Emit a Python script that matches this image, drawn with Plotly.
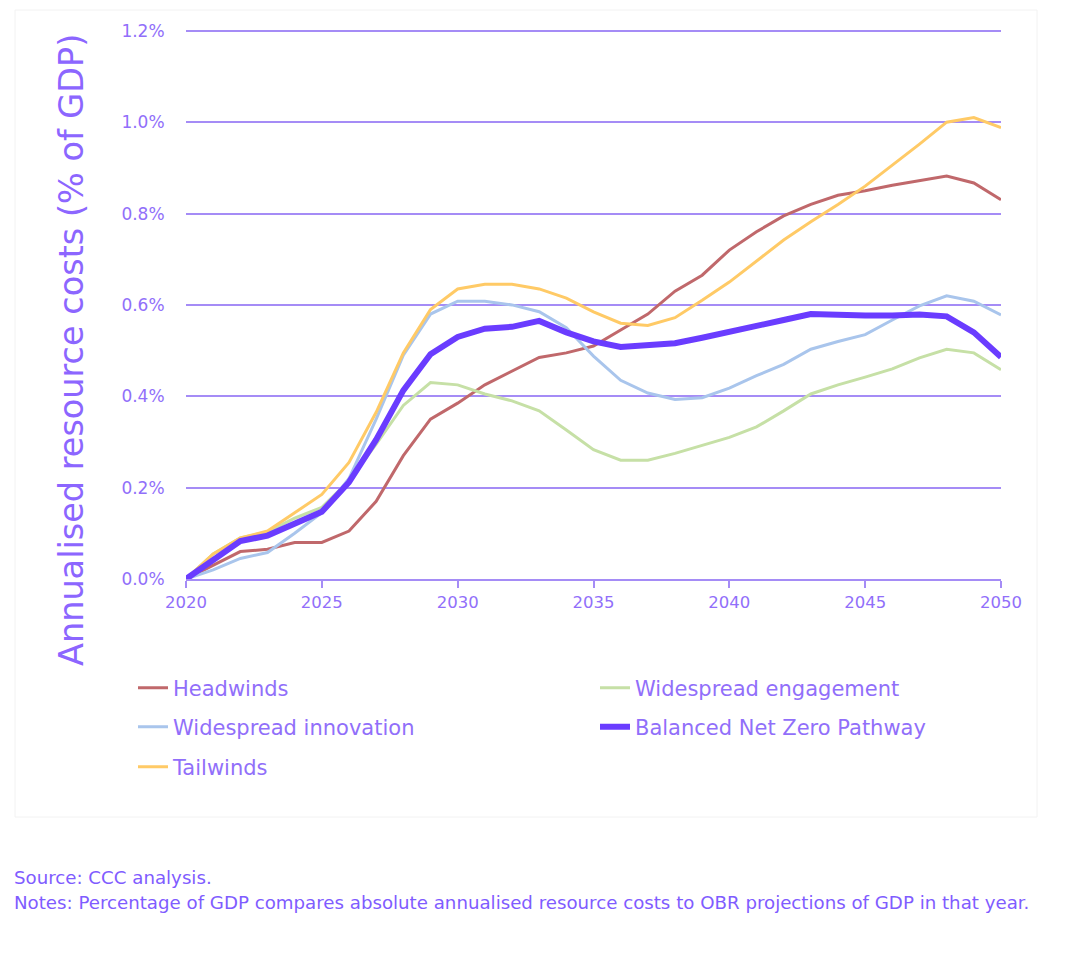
import plotly.graph_objects as go

years = list(range(2020, 2051))

headwinds = [0.0, 0.03, 0.06, 0.065, 0.08, 0.08, 0.105, 0.17, 0.27, 0.35, 0.385,
             0.425, 0.455, 0.485, 0.495, 0.51, 0.545, 0.58, 0.63, 0.665, 0.72,
             0.76, 0.795, 0.82, 0.84, 0.85, 0.862, 0.872, 0.882, 0.867, 0.83]
tailwinds = [0.0, 0.055, 0.09, 0.105, 0.145, 0.185, 0.255, 0.365, 0.495, 0.59, 0.635,
             0.645, 0.645, 0.635, 0.615, 0.585, 0.56, 0.555, 0.572, 0.61, 0.65,
             0.695, 0.742, 0.782, 0.82, 0.86, 0.905, 0.952, 1.0, 1.01, 0.988]
innovation = [0.0, 0.02, 0.045, 0.058, 0.1, 0.145, 0.22, 0.35, 0.49, 0.58, 0.608,
              0.608, 0.6, 0.585, 0.55, 0.488, 0.435, 0.407, 0.393, 0.397, 0.418,
              0.445, 0.47, 0.503, 0.52, 0.535, 0.567, 0.598, 0.62, 0.608, 0.578]
engagement = [0.0, 0.055, 0.09, 0.103, 0.133, 0.157, 0.215, 0.295, 0.38, 0.43, 0.425,
              0.405, 0.39, 0.368, 0.326, 0.283, 0.26, 0.26, 0.275, 0.293, 0.31,
              0.333, 0.368, 0.405, 0.425, 0.442, 0.46, 0.484, 0.503, 0.495, 0.458]
bnzp = [0.0, 0.04, 0.083, 0.095, 0.12, 0.147, 0.212, 0.305, 0.413, 0.492, 0.53,
        0.548, 0.552, 0.565, 0.54, 0.52, 0.508, 0.512, 0.516, 0.528, 0.54,
        0.555, 0.567, 0.58, 0.577, 0.577, 0.577, 0.579, 0.575, 0.54, 0.486]

y_ticks = [0.0, 0.2, 0.4, 0.6, 0.8, 1.0, 1.2]
y_tick_labels = ["0.0%", "0.2%", "0.4%", "0.6%", "0.8%", "1.0%", "1.2%"]
x_ticks = [2020, 2025, 2030, 2035, 2040, 2045, 2050]

TXT = "#916ffa"
GRID = "#a58cf6"
FONT = "DejaVu Sans"

# plot area (page px): left 186, right 1001, top 29, bottom 579; page has 8px body margin
PW, PH = 815, 550


def px(xpage):
    return (xpage - 186) / PW


def py(ypage):
    return (579 - ypage) / PH


fig = go.Figure()

series = [
    ("Headwinds", headwinds, "#c0686b", 3, "legend"),
    ("Widespread engagement", engagement, "#c6e0a6", 3, "legend"),
    ("Widespread innovation", innovation, "#a9c5ec", 3, "legend2"),
    ("Tailwinds", tailwinds, "#ffca66", 3, "legend3"),
    ("Balanced Net Zero Pathway", bnzp, "#6a3cff", 6, "legend2"),
]
for name, vals, col, w, lg in series:
    fig.add_trace(go.Scatter(x=years, y=vals, mode="lines", name=name,
                             line=dict(color=col, width=w), legend=lg))

leg_common = dict(orientation="h", xanchor="left", yanchor="middle",
                  x=px(133), entrywidth=417, entrywidthmode="pixels",
                  font=dict(family=FONT, size=21, color=TXT),
                  bgcolor="rgba(0,0,0,0)", traceorder="normal")

fig.update_layout(
    width=1050, height=957,
    margin=dict(l=178, r=57, t=21, b=386, autoexpand=False),
    paper_bgcolor="white", plot_bgcolor="white",
    font=dict(family=FONT, color=TXT),
    legend=dict(y=py(688), **leg_common),
    legend2=dict(y=py(727), **leg_common),
    legend3=dict(y=py(767), **leg_common),
    xaxis=dict(range=[2020, 2050], tickvals=x_ticks, ticktext=[str(t) for t in x_ticks],
               showgrid=False, zeroline=False, showline=True, linecolor=GRID, linewidth=2,
               ticks="outside", ticklen=7, tickwidth=1.5, tickcolor=GRID,
               tickfont=dict(family=FONT, size=16.5, color=TXT)),
    yaxis=dict(range=[0, 1.204], tickvals=y_ticks, ticktext=y_tick_labels,
               showgrid=True, gridcolor=GRID, gridwidth=2, zeroline=False,
               ticks="outside", ticklen=17, tickcolor="rgba(0,0,0,0)",
               tickfont=dict(family=FONT, size=17, color=TXT)),
    shapes=[dict(type="rect", xref="paper", yref="paper",
                 x0=px(15), x1=px(1037), y0=py(817), y1=py(10),
                 line=dict(color="#f2f2f2", width=1), layer="below")],
    annotations=[
        dict(text="Annualised resource costs (% of GDP)", xref="paper", yref="paper",
             x=px(71), y=py(350), xanchor="center", yanchor="middle", textangle=-90,
             showarrow=False, font=dict(family=FONT, size=33.5, color="#8c66ff")),
        dict(text="Source: CCC analysis.", xref="paper", yref="paper",
             x=px(12), y=py(878), xanchor="left", yanchor="middle",
             showarrow=False, font=dict(family=FONT, size=18.2, color="#7f5cff")),
        dict(text="Notes: Percentage of GDP compares absolute annualised resource costs to OBR projections of GDP in that year.",
             xref="paper", yref="paper",
             x=px(12), y=py(902), xanchor="left", yanchor="middle",
             showarrow=False, font=dict(family=FONT, size=18.2, color="#7f5cff")),
    ],
)

fig.write_html("out.html")
